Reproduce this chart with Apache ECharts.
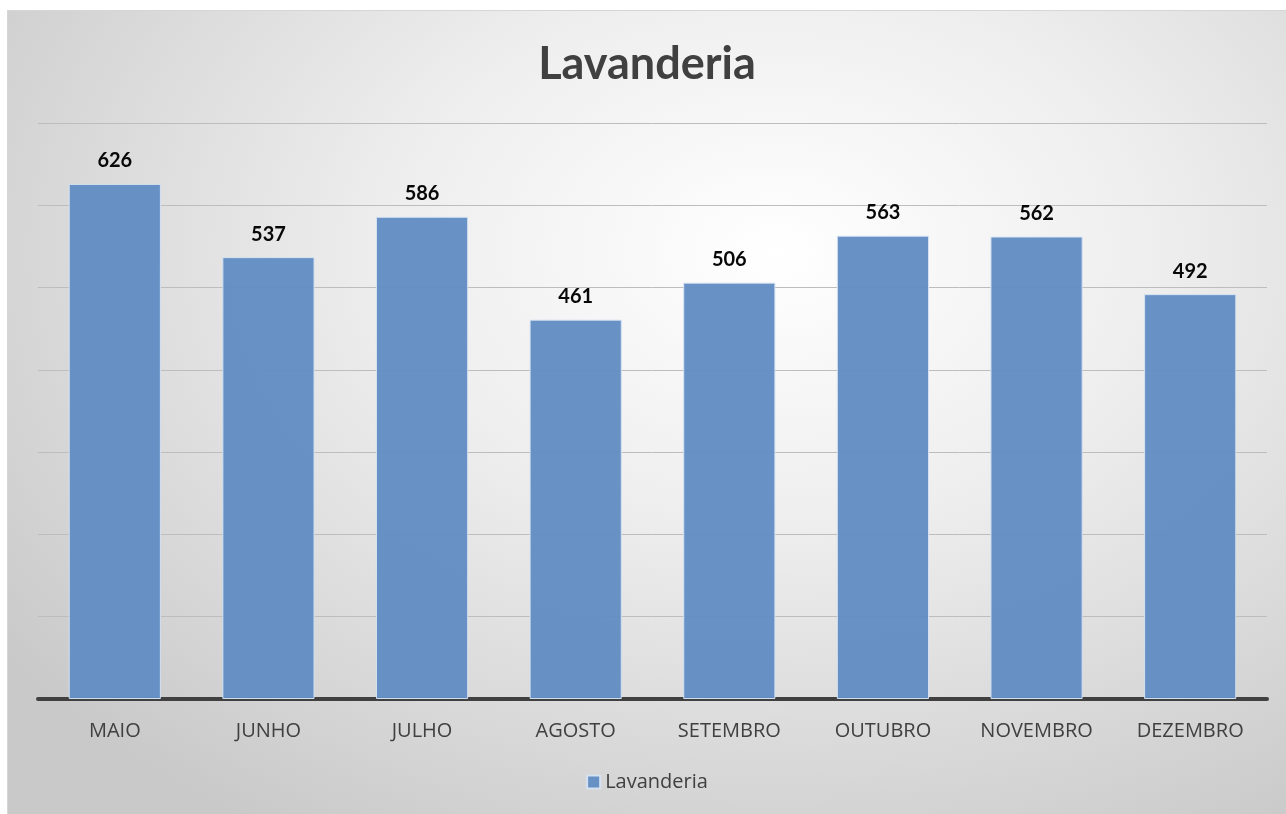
<!DOCTYPE html>
<html><head><meta charset="utf-8">
<script src="https://cdn.jsdelivr.net/npm/echarts@6/dist/echarts.min.js"></script>
<style>
html,body{margin:0;padding:0;background:#fff;width:1286px;height:814px;overflow:hidden;}
#wrap{position:absolute;left:7px;top:10px;width:1279px;height:804px;
background:radial-gradient(ellipse 75% 85% at 60% 30%, #ffffff 0%, #eeeeee 40%, #c9c9c9 100%);
border-top:1px solid #d6d6d6;border-left:1px solid #d6d6d6;box-sizing:border-box;}
#c{width:100%;height:100%;}
</style></head>
<body><div id="wrap"><div id="c"></div></div>
<script>
const categories = ['MAIO','JUNHO','JULHO','AGOSTO','SETEMBRO','OUTUBRO','NOVEMBRO','DEZEMBRO'];
const values = [626,537,586,461,506,563,562,492];
const seriesName = 'Lavanderia';
const titleText = 'Lavanderia';
const boldFont = 'Lato, "Open Sans", sans-serif';
const font = '"Open Sans", Lato, sans-serif';
const chart = echarts.init(document.getElementById('c'), null, {renderer:'canvas'});
chart.setOption({
  backgroundColor:'transparent',
  animation:false,
  title:{text:titleText,left:'center',top:26,textStyle:{fontFamily:boldFont,fontSize:45,fontWeight:'bold',color:'#404040'}},
  legend:{bottom:17,left:'center',itemWidth:13,itemHeight:13,icon:'rect',itemGap:7,
    textStyle:{fontFamily:font,fontSize:20,color:'#404040'},data:[seriesName]},
  grid:{left:30,right:19,top:112,bottom:115,containLabel:false},
  xAxis:{type:'category',data:categories,
    axisLine:{lineStyle:{color:'#404040',width:4}},axisTick:{show:false},
    axisLabel:{fontFamily:font,fontSize:20,color:'#404040',margin:22}},
  yAxis:{type:'value',min:0,max:700,interval:100,
    axisLabel:{show:false},axisLine:{show:false},axisTick:{show:false},
    splitLine:{lineStyle:{color:'#bdbdbd',width:1}}},
  series:[{name:seriesName,type:'bar',data:values,barCategoryGap:'40%',
    itemStyle:{color:'#638ec4',borderColor:'#d6e2f2',borderWidth:1,opacity:0.97},
    label:{show:true,position:'top',distance:13,fontFamily:boldFont,fontSize:20,fontWeight:'bold',color:'#000'}}]
});
</script></body></html>
